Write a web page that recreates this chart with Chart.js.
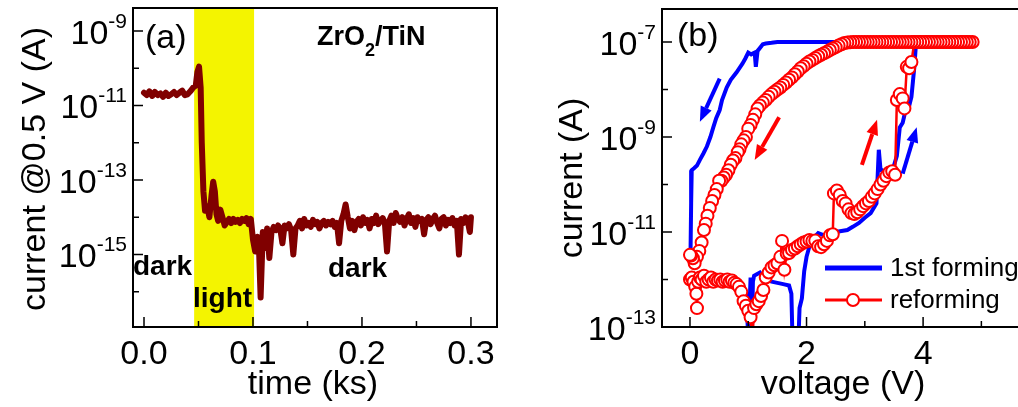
<!DOCTYPE html>
<html>
<head>
<meta charset="utf-8">
<script src="https://cdn.jsdelivr.net/npm/chart.js@4.4.1/dist/chart.umd.min.js"></script>
<style>
  html, body { margin: 0; padding: 0; background: #fff; overflow: hidden; }
  #wrap { position: relative; width: 1018px; height: 407px; overflow: hidden; }
  #chartA { position: absolute; left: 0; top: 0; }
  #chartB { position: absolute; left: 510px; top: 0; }
</style>
</head>
<body>
<div id="wrap">
  <canvas id="chartA" width="510" height="407"></canvas>
  <canvas id="chartB" width="540" height="407"></canvas>
</div>
<script>
// ---- panel (a): current at 0.5 V vs time ----
const timeKs = [
  0, 0.0025, 0.005, 0.0075, 0.01, 0.0125, 0.015, 0.0175, 0.02, 0.0225,
  0.025, 0.0275, 0.03, 0.0325, 0.035, 0.0375, 0.04, 0.0425, 0.045, 0.0475,
  0.049, 0.0505, 0.052, 0.053, 0.0545, 0.056, 0.058, 0.06, 0.062, 0.0635,
  0.065, 0.0665, 0.068, 0.07, 0.072, 0.074, 0.076, 0.078, 0.08, 0.082,
  0.084, 0.086, 0.088, 0.09, 0.092, 0.094, 0.096, 0.098, 0.1, 0.102,
  0.104, 0.1055, 0.107, 0.109, 0.111, 0.113, 0.115, 0.117, 0.119, 0.121,
  0.123, 0.125, 0.127, 0.129, 0.131, 0.133, 0.135, 0.137, 0.139, 0.141,
  0.143, 0.145, 0.147, 0.149, 0.151, 0.153, 0.155, 0.157, 0.159, 0.161,
  0.163, 0.165, 0.167, 0.169, 0.171, 0.173, 0.175, 0.177, 0.179, 0.181,
  0.183, 0.185, 0.187, 0.189, 0.191, 0.193, 0.195, 0.197, 0.199, 0.201,
  0.203, 0.205, 0.207, 0.209, 0.211, 0.213, 0.215, 0.217, 0.219, 0.221,
  0.223, 0.225, 0.227, 0.229, 0.231, 0.233, 0.235, 0.237, 0.239, 0.241,
  0.243, 0.245, 0.247, 0.249, 0.251, 0.253, 0.255, 0.257, 0.259, 0.261,
  0.263, 0.265, 0.267, 0.269, 0.271, 0.273, 0.275, 0.277, 0.279, 0.281,
  0.283, 0.285, 0.287, 0.289, 0.291, 0.293, 0.295, 0.297, 0.299, 0.3
];
const currentA = [
  2.2e-11, 1.9e-11, 2.4e-11, 1.8e-11, 2.3e-11, 1.9e-11, 2.1e-11, 1.7e-11, 2.2e-11, 1.8e-11,
  2.0e-11, 2.3e-11, 1.9e-11, 2.2e-11, 2.5e-11, 1.9e-11, 2.0e-11, 2.4e-11, 3.0e-11, 3.4e-11,
  8.0e-11, 1.1e-10, 3.0e-11, 1.0e-12, 5.0e-14, 1.5e-14, 2.0e-14, 1.0e-14, 4.0e-14, 9.0e-14,
  5.0e-14, 1.2e-14, 8.0e-15, 1.6e-14, 1.0e-14, 6.0e-15, 7.5e-15, 9.0e-15, 7.0e-15, 9.0e-15,
  7.5e-15, 8.5e-15, 7.0e-15, 9.0e-15, 8.0e-15, 9.5e-15, 6.5e-15, 9.0e-15, 2.5e-15, 1.2e-15,
  3.0e-15, 1.5e-15, 7.0e-17, 4.0e-15, 1.5e-15, 5.0e-15, 8.0e-16, 4.0e-15, 5.5e-15, 4.5e-15,
  6.0e-15, 5.0e-15, 2.0e-15, 6.0e-15, 5.0e-15, 6.5e-15, 4.5e-15, 1.0e-15, 5.0e-15, 6.0e-15,
  8.0e-15, 5.0e-15, 9.0e-15, 6.0e-15, 7.0e-15, 5.5e-15, 8.5e-15, 6.5e-15, 7.5e-15, 5.0e-15,
  7.0e-15, 8.0e-15, 6.0e-15, 7.5e-15, 6.5e-15, 8.0e-15, 5.5e-15, 7.0e-15, 2.0e-15, 8.0e-15,
  1.2e-14, 2.2e-14, 1.0e-14, 5.0e-15, 8.0e-15, 4.5e-15, 7.5e-15, 9.0e-15, 6.0e-15, 1.0e-14,
  7.0e-15, 8.5e-15, 5.0e-15, 9.0e-15, 7.0e-15, 1.1e-14, 6.5e-15, 8.0e-15, 9.5e-15, 7.0e-15,
  1.2e-15, 8.0e-15, 1.1e-14, 7.0e-15, 1.3e-14, 9.0e-15, 7.5e-15, 1.0e-14, 6.0e-15, 9.0e-15,
  1.2e-14, 7.0e-15, 9.5e-15, 5.5e-15, 1.0e-14, 8.0e-15, 9.0e-15, 3.5e-15, 8.5e-15, 1.0e-14,
  6.5e-15, 9.0e-15, 1.1e-14, 7.0e-15, 5.0e-15, 9.0e-15, 1.0e-14, 6.0e-15, 8.5e-15, 7.0e-15,
  9.5e-15, 6.0e-15, 8.0e-15, 1.0e-15, 9.0e-15, 7.0e-15, 1.0e-14, 8.0e-15, 4.0e-15, 1.0e-14
];
const lightOn = [0.046, 0.101];   // illuminated interval (ks)

// ---- panel (b): I-V sweeps ----
const formV = [
  0, 0.1, 0.2, 0.3, 0.4, 0.5, 0.6, 0.7, 0.8, 0.9,
  0.97, 1.0, 1.04, 1.06, 1.08, 1.1, 1.2, 1.3, 1.4, 1.5,
  1.6, 1.7, 1.74, 1.76, 1.86, 1.88, 1.92, 1.96, 2.0, 2.05,
  2.1, 2.2, 2.3, 2.4, 2.5, 2.6, 2.7, 2.8, 2.9, 3.0,
  3.1, 3.2, 3.24, 3.27, 3.3, 3.4, 3.5, 3.55, 3.6, 3.65,
  3.7, 3.75, 3.8, 3.85, 3.88, 3.5, 3.0, 2.5, 2.0, 1.5,
  1.4, 1.3, 1.25, 1.2, 1.16, 1.13, 1.11, 1.05, 1.0, 0.95,
  0.9, 0.8, 0.7, 0.63, 0.55, 0.51, 0.45, 0.4, 0.35, 0.29,
  0.23, 0.17, 0.12, 0.07, 0.03, 0.02, 0.01, 0
];
const formI = [
  1.1e-12, 1.0e-12, 1.1e-12, 1.0e-12, 1.05e-12, 1.0e-12, 9.5e-13, 1.0e-12, 9e-13, 8e-13,
  5e-13, 5e-14, 1.1e-12, 5e-14, 9e-13, 1.2e-12, 1.4e-12, 1.0e-12, 9e-13, 8.5e-13,
  8e-13, 7.5e-13, 5e-13, 5e-14, 5e-14, 2.5e-13, 4e-13, 1.5e-12, 3e-12, 5e-12,
  7e-12, 9.5e-12, 8.5e-12, 9e-12, 1.0e-11, 1.05e-11, 1.1e-11, 1.3e-11, 1.55e-11, 2e-11,
  2.5e-11, 4e-11, 5.4e-10, 2e-10, 2e-10, 1.7e-10, 2.5e-10, 4e-10, 1.6e-9, 2e-9,
  3.7e-9, 4e-9, 7e-9, 3e-8, 1e-7, 1e-7, 1e-7, 1e-7, 1e-7, 1e-7,
  9.6e-8, 9.3e-8, 9e-8, 7.5e-8, 6.5e-8, 3e-8, 6e-8, 5.5e-8, 6e-8, 4.5e-8,
  3.5e-8, 2.3e-8, 1.6e-8, 1.1e-8, 6e-9, 3.7e-9, 2.5e-9, 1.6e-9, 1.0e-9, 6.3e-10,
  4.5e-10, 3.3e-10, 2.5e-10, 2.2e-10, 2e-10, 4e-11, 4e-12, 3.5e-12
];
const reformV = [
  0, 0.03, 0.06, 0.09, 0.11, 0.12, 0.14, 0.17, 0.2, 0.24,
  0.28, 0.32, 0.36, 0.4, 0.44, 0.48, 0.52, 0.56, 0.6, 0.64,
  0.68, 0.72, 0.76, 0.8, 0.84, 0.88, 0.92, 0.96, 1.0, 1.04,
  1.07, 1.1, 1.14, 1.18, 1.22, 1.26, 1.3, 1.35, 1.4, 1.45,
  1.5, 1.55, 1.58, 1.62, 1.66, 1.7, 1.75, 1.8, 1.85, 1.9,
  1.95, 2.0, 2.05, 2.1, 2.15, 2.2, 2.25, 2.3, 2.35, 2.4,
  2.45, 2.47, 2.52, 2.57, 2.62, 2.67, 2.72, 2.77, 2.82, 2.87,
  2.92, 2.97, 3.02, 3.07, 3.12, 3.17, 3.22, 3.27, 3.32, 3.37,
  3.42, 3.47, 3.52, 3.55, 3.6, 3.65, 3.68, 3.72, 3.76, 3.8,
  3.85, 3.95, 4.05, 4.15, 4.25, 4.35, 4.45, 4.55, 4.65, 4.75,
  4.85, 4.8, 4.75, 4.7, 4.65, 4.6, 4.55, 4.5, 4.45, 4.4,
  4.35, 4.3, 4.25, 4.2, 4.15, 4.1, 4.05, 4.0, 3.95, 3.9,
  3.85, 3.8, 3.75, 3.7, 3.65, 3.6, 3.55, 3.5, 3.45, 3.4,
  3.35, 3.3, 3.25, 3.2, 3.15, 3.1, 3.05, 3.0, 2.95, 2.9,
  2.85, 2.8, 2.75, 2.7, 2.65, 2.6, 2.55, 2.5, 2.45, 2.4,
  2.35, 2.3, 2.25, 2.2, 2.15, 2.1, 2.05, 2.0, 1.95, 1.9,
  1.85, 1.8, 1.75, 1.7, 1.65, 1.6, 1.55, 1.5, 1.45, 1.4,
  1.35, 1.3, 1.25, 1.2, 1.16, 1.12, 1.08, 1.04, 1.0, 0.96,
  0.92, 0.88, 0.85, 0.82, 0.78, 0.74, 0.7, 0.66, 0.62, 0.58,
  0.54, 0.5, 0.46, 0.42, 0.38, 0.34, 0.3, 0.27, 0.24, 0.2,
  0.16, 0.12, 0.08, 0.05, 0.02, 0
];
const reformI = [
  1.0e-12, 1.1e-12, 9e-13, 7e-13, 5e-13, 2.5e-13, 9e-13, 1.1e-12, 1.0e-12, 1.2e-12,
  9e-13, 1.0e-12, 1.1e-12, 9e-13, 1.0e-12, 9.5e-13, 1.0e-12, 9e-13, 9.5e-13, 1.0e-12,
  9e-13, 9.5e-13, 8.5e-13, 8e-13, 7e-13, 5.5e-13, 3.5e-13, 2.8e-13, 2.2e-13, 1.6e-13,
  5e-14, 2.5e-13, 3e-13, 3.5e-13, 4.5e-13, 6e-13, 1.1e-12, 1.4e-12, 1.8e-12, 2.0e-12,
  2.2e-12, 3.0e-12, 6.5e-12, 1.6e-12, 3.5e-12, 3.6e-12, 4.2e-12, 4.5e-12, 5e-12, 5.5e-12,
  6e-12, 6.3e-12, 6.8e-12, 6.5e-12, 6.6e-12, 5e-12, 4.8e-12, 5.5e-12, 6.5e-12, 8.5e-12,
  9e-12, 6.5e-11, 7.5e-11, 6e-11, 4.5e-11, 4e-11, 3e-11, 2.5e-11, 2.4e-11, 2.6e-11,
  3e-11, 3.5e-11, 4e-11, 4.5e-11, 5.5e-11, 6.5e-11, 8e-11, 1.0e-10, 1.2e-10, 1.5e-10,
  1.8e-10, 1.9e-10, 1.6e-10, 6e-9, 8e-9, 6.5e-9, 4e-9, 3e-8, 2.8e-8, 3.8e-8,
  1e-7, 1e-7, 1e-7, 1e-7, 1e-7, 1e-7, 1e-7, 1e-7, 1e-7, 1e-7,
  1e-7, 1e-7, 1e-7, 1e-7, 1e-7, 1e-7, 1e-7, 1e-7, 1e-7, 1e-7,
  1e-7, 1e-7, 1e-7, 1e-7, 1e-7, 1e-7, 1e-7, 1e-7, 1e-7, 1e-7,
  1e-7, 1e-7, 1e-7, 1e-7, 1e-7, 1e-7, 1e-7, 1e-7, 1e-7, 1e-7,
  1e-7, 1e-7, 1e-7, 1e-7, 1e-7, 1e-7, 1e-7, 1e-7, 1e-7, 1e-7,
  1e-7, 1e-7, 9.9e-8, 9.8e-8, 9.5e-8, 9e-8, 8.4e-8, 7.8e-8, 7.3e-8, 6.8e-8,
  6.2e-8, 5.8e-8, 5.4e-8, 5e-8, 4.6e-8, 4.2e-8, 3.9e-8, 3.5e-8, 3.1e-8, 2.8e-8,
  2.4e-8, 2.1e-8, 1.8e-8, 1.6e-8, 1.4e-8, 1.25e-8, 1.1e-8, 1.0e-8, 9e-9, 8e-9,
  7e-9, 6e-9, 5.3e-9, 4.6e-9, 4e-9, 3e-9, 2.3e-9, 1.8e-9, 1.5e-9, 1.0e-9,
  8.5e-10, 7e-10, 5.5e-10, 4.8e-10, 3.6e-10, 3.2e-10, 2.6e-10, 2e-10, 1.6e-10, 1.4e-10,
  1.2e-10, 1.2e-10, 8e-11, 6e-11, 4.5e-11, 3.2e-11, 2.2e-11, 1.5e-11, 1.1e-11, 6e-12,
  4e-12, 3e-12, 2.2e-12, 2.8e-12, 3.2e-12, 3.3e-12
];

// ticks
const xMajorA = [0, 0.1, 0.2, 0.3];
const xMinorA = [0.05, 0.15, 0.25];
const xLabelsA = ['0.0', '0.1', '0.2', '0.3'];
const yMajorExpA = [-9, -11, -13, -15];
const yMinorExpA = [-10, -12, -14, -16];
const xMajorB = [0, 2, 4];
const xMinorB = [1, 3, 5];
const xLabelsB = ['0', '2', '4'];
const yMajorExpB = [-7, -9, -11, -13];
const yMinorExpB = [-8, -10, -12];

// sweep direction arrows, [V, I] -> [V, I]
const arrowsB = [
  { from: [0.51, 1.7e-8], to: [0.17, 2.1e-9], color: '#0000ff' },
  { from: [3.65, 1.7e-10], to: [3.89, 1.6e-9], color: '#0000ff' },
  { from: [1.53, 2.6e-9], to: [1.11, 3.3e-10], color: '#ff0000' },
  { from: [2.95, 2.6e-10], to: [3.21, 2.3e-9], color: '#ff0000' }
];

const FONT = '"Liberation Sans", Arial, Helvetica, sans-serif';
const BROWN = '#800000';
const YELLOW = '#f4f400';
const BLUE = '#0000ff';
const RED = '#ff0000';

function pairs(xs, ys) {
  return xs.map((x, i) => ({ x: x, y: ys[i] }));
}

function drawArrow(ctx, x1, y1, x2, y2, color) {
  const ang = Math.atan2(y2 - y1, x2 - x1);
  const hl = 15, hw = 6;
  const bx = x2 - hl * Math.cos(ang), by = y2 - hl * Math.sin(ang);
  ctx.strokeStyle = color;
  ctx.fillStyle = color;
  ctx.lineWidth = 4;
  ctx.beginPath();
  ctx.moveTo(x1, y1);
  ctx.lineTo(bx, by);
  ctx.stroke();
  ctx.beginPath();
  ctx.moveTo(x2, y2);
  ctx.lineTo(bx + hw * Math.sin(ang), by - hw * Math.cos(ang));
  ctx.lineTo(bx - hw * Math.sin(ang), by + hw * Math.cos(ang));
  ctx.closePath();
  ctx.fill();
}

function framePlugin(cfg) {
  return {
    id: 'frame',
    beforeDatasetsDraw(chart) {
      if (!cfg.band) return;
      const ctx = chart.ctx, a = chart.chartArea, xs = chart.scales.x;
      const x1 = xs.getPixelForValue(cfg.band[0]);
      const x2 = xs.getPixelForValue(cfg.band[1]);
      ctx.save();
      ctx.fillStyle = YELLOW;
      ctx.fillRect(x1, a.top, x2 - x1, a.bottom - a.top);
      ctx.restore();
    },
    afterDraw(chart) {
      const ctx = chart.ctx, a = chart.chartArea;
      const xs = chart.scales.x, ys = chart.scales.y;
      ctx.save();

      if (cfg.extra) cfg.extra(ctx, chart);

      // box and inward ticks
      ctx.strokeStyle = '#000';
      ctx.lineWidth = 2;
      ctx.strokeRect(a.left, a.top, a.right - a.left, a.bottom - a.top);
      ctx.lineWidth = 1.5;
      ctx.beginPath();
      cfg.xMajor.forEach(v => {
        const x = xs.getPixelForValue(v);
        ctx.moveTo(x, a.bottom); ctx.lineTo(x, a.bottom - 10);
      });
      cfg.xMinor.forEach(v => {
        const x = xs.getPixelForValue(v);
        ctx.moveTo(x, a.bottom); ctx.lineTo(x, a.bottom - 6);
      });
      cfg.yMajor.forEach(e => {
        const y = ys.getPixelForValue(Math.pow(10, e));
        ctx.moveTo(a.left, y); ctx.lineTo(a.left + 10, y);
      });
      cfg.yMinor.forEach(e => {
        const y = ys.getPixelForValue(Math.pow(10, e));
        ctx.moveTo(a.left, y); ctx.lineTo(a.left + 6, y);
      });
      ctx.stroke();

      // tick labels
      ctx.fillStyle = '#000';
      ctx.font = '34px ' + FONT;
      ctx.textAlign = 'center';
      ctx.textBaseline = 'alphabetic';
      cfg.xMajor.forEach((v, i) => {
        ctx.fillText(cfg.xLabels[i], xs.getPixelForValue(v), a.bottom + 37);
      });
      ctx.textAlign = 'right';
      cfg.yMajor.forEach(e => {
        const y = ys.getPixelForValue(Math.pow(10, e));
        const right = a.left - 6;
        ctx.font = '21px ' + FONT;
        const ew = ctx.measureText(String(e)).width;
        ctx.fillText(String(e), right, y - 3);
        ctx.font = '34px ' + FONT;
        ctx.fillText('10', right - ew, y + 13);
      });

      // axis titles
      ctx.font = '34px ' + FONT;
      ctx.textAlign = 'center';
      ctx.fillText(cfg.xTitle, cfg.xTitlePos[0], cfg.xTitlePos[1]);
      ctx.save();
      ctx.translate(cfg.yTitlePos[0], cfg.yTitlePos[1]);
      ctx.rotate(-Math.PI / 2);
      ctx.fillText(cfg.yTitle, 0, 0);
      ctx.restore();

      // panel tag
      ctx.textAlign = 'left';
      ctx.fillText(cfg.tag, cfg.tagPos[0], cfg.tagPos[1]);

      ctx.restore();
    }
  };
}

// ---------- chart (a) ----------
new Chart(document.getElementById('chartA'), {
  type: 'line',
  data: {
    datasets: [{
      data: pairs(timeKs, currentA),
      borderColor: BROWN,
      borderWidth: 6,
      pointRadius: 0,
      tension: 0,
      borderJoinStyle: 'round',
      borderCapStyle: 'round',
      clip: 0
    }]
  },
  options: {
    responsive: false,
    animation: false,
    devicePixelRatio: 1,
    layout: { padding: { left: 133, right: 13, top: 8, bottom: 80 } },
    scales: {
      x: { type: 'linear', min: -0.0101, max: 0.3239, display: false },
      y: { type: 'logarithmic', min: Math.pow(10, -16.947), max: Math.pow(10, -8.383), display: false }
    },
    plugins: { legend: { display: false }, tooltip: { enabled: false } }
  },
  plugins: [framePlugin({
    band: lightOn,
    xMajor: xMajorA, xMinor: xMinorA, xLabels: xLabelsA,
    yMajor: yMajorExpA, yMinor: yMinorExpA,
    xTitle: 'time (ks)', xTitlePos: [313, 394],
    yTitle: 'current @0.5 V (A)', yTitlePos: [45, 169],
    tag: '(a)', tagPos: [145, 48],
    extra(ctx) {
      ctx.fillStyle = '#000';
      ctx.textAlign = 'left';
      ctx.textBaseline = 'alphabetic';
      ctx.font = 'bold 28px ' + FONT;
      ctx.fillText('dark', 133, 275);
      ctx.fillText('light', 193, 307);
      ctx.fillText('dark', 328, 277);
      // ZrO2/TiN with subscript
      let x = 317;
      ctx.font = 'bold 27px ' + FONT;
      ctx.fillText('ZrO', x, 45);
      x += ctx.measureText('ZrO').width;
      ctx.font = 'bold 18px ' + FONT;
      ctx.fillText('2', x, 56);
      x += ctx.measureText('2').width;
      ctx.font = 'bold 27px ' + FONT;
      ctx.fillText('/TiN', x, 45);
    }
  })]
});

// ---------- chart (b) ----------
new Chart(document.getElementById('chartB'), {
  type: 'line',
  data: {
    datasets: [{
      label: 'reforming',
      data: pairs(reformV, reformI),
      borderColor: RED,
      borderWidth: 2.5,
      pointRadius: 6,
      pointBorderWidth: 2,
      pointBackgroundColor: '#fff',
      pointBorderColor: RED,
      tension: 0,
      clip: 0,
      order: 0
    }, {
      label: '1st forming',
      data: pairs(formV, formI),
      borderColor: BLUE,
      borderWidth: 4,
      pointRadius: 0,
      tension: 0,
      clip: 0,
      order: 1
    }]
  },
  options: {
    responsive: false,
    animation: false,
    devicePixelRatio: 1,
    layout: { padding: { left: 152, right: 22, top: 9, bottom: 80 } },
    scales: {
      x: { type: 'linear', min: -0.48, max: 5.8, display: false },
      y: { type: 'logarithmic', min: 1e-13, max: Math.pow(10, -6.305), display: false }
    },
    plugins: { legend: { display: false }, tooltip: { enabled: false } }
  },
  plugins: [framePlugin({
    xMajor: xMajorB, xMinor: xMinorB, xLabels: xLabelsB,
    yMajor: yMajorExpB, yMinor: yMinorExpB,
    xTitle: 'voltage (V)', xTitlePos: [333, 394],
    yTitle: 'current (A)', yTitlePos: [72, 178],
    tag: '(b)', tagPos: [167, 46],
    extra(ctx, chart) {
      const xs = chart.scales.x, ys = chart.scales.y;
      arrowsB.forEach(ar => {
        drawArrow(ctx,
          xs.getPixelForValue(ar.from[0]), ys.getPixelForValue(ar.from[1]),
          xs.getPixelForValue(ar.to[0]), ys.getPixelForValue(ar.to[1]), ar.color);
      });
      // legend
      ctx.lineWidth = 5;
      ctx.strokeStyle = BLUE;
      ctx.beginPath(); ctx.moveTo(315, 268); ctx.lineTo(372, 268); ctx.stroke();
      ctx.lineWidth = 3;
      ctx.strokeStyle = RED;
      ctx.beginPath(); ctx.moveTo(315, 300); ctx.lineTo(372, 300); ctx.stroke();
      ctx.fillStyle = '#fff';
      ctx.lineWidth = 2;
      ctx.beginPath(); ctx.arc(343, 300, 6, 0, Math.PI * 2); ctx.fill(); ctx.stroke();
      ctx.fillStyle = '#000';
      ctx.font = '26px ' + FONT;
      ctx.textAlign = 'left';
      ctx.textBaseline = 'middle';
      ctx.fillText('1st forming', 380, 269);
      ctx.fillText('reforming', 380, 301);
      ctx.textBaseline = 'alphabetic';
    }
  })]
});
</script>
</body>
</html>
